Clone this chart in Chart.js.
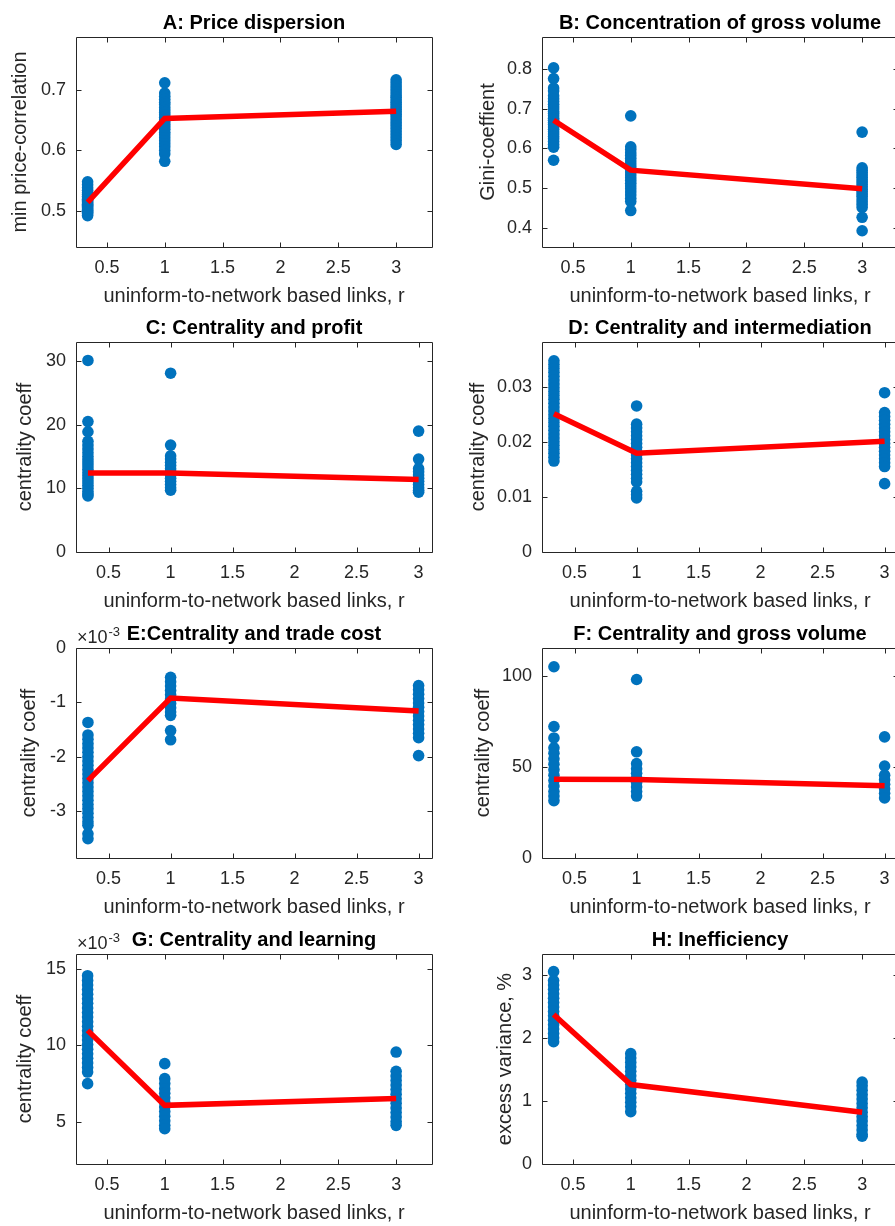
<!DOCTYPE html>
<html>
<head>
<meta charset="utf-8">
<script src="https://cdn.jsdelivr.net/npm/chart.js@4.4.0/dist/chart.umd.min.js"></script>
<style>
  html, body { margin: 0; padding: 0; background: #fff; overflow: hidden; width: 895px; height: 1226px; }
  #figure { position: relative; width: 895px; height: 1226px; overflow: hidden; }
  #figure canvas { position: absolute; }
</style>
</head>
<body>
<div id="figure"></div>
<script>
// x positions of the three simulation groups
const rValues = [1 / 3, 1, 3]
const xTicks = [0.5, 1, 1.5, 2, 2.5, 3]

// A: price dispersion
const aLow = [0.548, 0.543, 0.538, 0.534, 0.530, 0.527, 0.524, 0.521, 0.519, 0.517, 0.515, 0.513, 0.511, 0.509, 0.507, 0.505, 0.503, 0.501, 0.499, 0.497, 0.495, 0.492]
const aMid = [0.712, 0.695, 0.690, 0.685, 0.680, 0.676, 0.671, 0.667, 0.663, 0.659, 0.655, 0.651, 0.647, 0.643, 0.639, 0.635, 0.630, 0.626, 0.621, 0.616, 0.611, 0.606, 0.600, 0.594, 0.582]
const aHigh = [0.717, 0.712, 0.707, 0.702, 0.697, 0.692, 0.688, 0.684, 0.680, 0.676, 0.672, 0.668, 0.664, 0.660, 0.656, 0.651, 0.646, 0.641, 0.636, 0.631, 0.626, 0.621, 0.616, 0.610]
const aMean = [0.514, 0.653, 0.665]
const aTicks = [0.5, 0.6, 0.7]

// B: concentration of gross volume
const bLow = [0.803, 0.776, 0.752, 0.745, 0.733, 0.725, 0.718, 0.711, 0.705, 0.699, 0.693, 0.688, 0.682, 0.676, 0.671, 0.665, 0.660, 0.654, 0.648, 0.642, 0.636, 0.630, 0.624, 0.617, 0.610, 0.603, 0.570]
const bMid = [0.682, 0.604, 0.597, 0.589, 0.582, 0.575, 0.568, 0.561, 0.554, 0.547, 0.540, 0.533, 0.526, 0.519, 0.512, 0.505, 0.498, 0.490, 0.482, 0.474, 0.466, 0.443]
const bHigh = [0.641, 0.551, 0.545, 0.539, 0.533, 0.527, 0.521, 0.515, 0.509, 0.503, 0.497, 0.491, 0.485, 0.479, 0.472, 0.465, 0.458, 0.451, 0.426, 0.392]
const bMean = [0.671, 0.545, 0.498]
const bTicks = [0.4, 0.5, 0.6, 0.7, 0.8]

// C: centrality and profit
const cLow = [30.1, 20.5, 18.9, 17.4, 16.8, 16.2, 15.6, 15.0, 14.5, 14.0, 13.5, 13.0, 12.5, 12.0, 11.5, 11.0, 10.5, 10.0, 9.5, 9.1, 8.8]
const cMid = [28.1, 16.8, 15.1, 14.6, 14.1, 13.6, 13.1, 12.6, 12.1, 11.6, 11.1, 10.6, 10.1, 9.7]
const cHigh = [19.0, 14.6, 13.1, 12.6, 12.1, 11.6, 11.1, 10.6, 10.1, 9.7, 9.4]
const cMean = [12.4, 12.4, 11.4]
const cTicks = [0, 10, 20, 30]

// D: centrality and intermediation
const dLow = [0.0347, 0.0340, 0.0333, 0.0326, 0.0319, 0.0312, 0.0305, 0.0298, 0.0291, 0.0284, 0.0277, 0.0270, 0.0263, 0.0256, 0.0249, 0.0242, 0.0235, 0.0228, 0.0221, 0.0214, 0.0207, 0.0200, 0.0193, 0.0186, 0.0179, 0.0172, 0.0165]
const dMid = [0.0265, 0.0232, 0.0225, 0.0218, 0.0211, 0.0204, 0.0197, 0.0190, 0.0183, 0.0176, 0.0169, 0.0162, 0.0155, 0.0148, 0.0141, 0.0134, 0.0127, 0.0110, 0.0104, 0.0098]
const dHigh = [0.0289, 0.0253, 0.0246, 0.0239, 0.0232, 0.0225, 0.0218, 0.0211, 0.0204, 0.0197, 0.0190, 0.0183, 0.0176, 0.0169, 0.0162, 0.0155, 0.0124]
const dMean = [0.0251, 0.0179, 0.0201]
const dTicks = [0, 0.01, 0.02, 0.03]

// E: centrality and trade cost (x 10^-3)
const eLow = [-1.37, -1.60, -1.68, -1.76, -1.84, -1.92, -2.00, -2.08, -2.16, -2.24, -2.32, -2.40, -2.48, -2.56, -2.64, -2.72, -2.80, -2.88, -2.96, -3.04, -3.12, -3.20, -3.26, -3.42, -3.51]
const eMid = [-0.54, -0.62, -0.70, -0.78, -0.86, -0.94, -1.02, -1.10, -1.18, -1.24, -1.52, -1.69]
const eHigh = [-0.69, -0.77, -0.85, -0.93, -1.01, -1.09, -1.17, -1.25, -1.33, -1.41, -1.49, -1.57, -1.65, -1.98]
const eMean = [-2.44, -0.92, -1.16]
const eTicks = [-3, -2, -1, 0]

// F: centrality and gross volume
const fLow = [105.0, 72.2, 65.9, 60.5, 57.5, 54.5, 51.5, 48.5, 45.5, 42.5, 39.5, 36.5, 34.0, 31.5]
const fMid = [98.0, 58.3, 51.8, 49.0, 46.5, 44.0, 41.5, 39.0, 36.5, 34.0]
const fHigh = [66.5, 50.5, 45.5, 43.0, 40.5, 38.0, 35.5, 33.0]
const fMean = [43.2, 43.1, 39.7]
const fTicks = [0, 50, 100]

// G: centrality and learning (x 10^-3)
const gLow = [14.56, 14.25, 13.95, 13.65, 13.35, 13.05, 12.75, 12.45, 12.15, 11.85, 11.55, 11.25, 10.95, 10.65, 10.35, 10.05, 9.75, 9.45, 9.15, 8.85, 8.55, 8.25, 7.49]
const gMid = [8.80, 7.82, 7.50, 7.16, 6.86, 6.56, 6.26, 5.96, 5.66, 5.36, 5.06, 4.76, 4.54]
const gHigh = [9.56, 8.30, 8.00, 7.70, 7.40, 7.10, 6.80, 6.50, 6.20, 5.90, 5.60, 5.30, 5.00, 4.76]
const gMean = [10.98, 6.07, 6.52]
const gTicks = [5, 10, 15]

// H: inefficiency
const hLow = [3.05, 2.91, 2.84, 2.77, 2.70, 2.63, 2.56, 2.49, 2.42, 2.35, 2.28, 2.21, 2.14, 2.07, 2.00, 1.94]
const hMid = [1.75, 1.68, 1.61, 1.54, 1.47, 1.40, 1.33, 1.26, 1.19, 1.12, 1.05, 0.98, 0.91, 0.83]
const hHigh = [1.30, 1.24, 1.17, 1.10, 1.03, 0.96, 0.89, 0.82, 0.75, 0.68, 0.61, 0.54, 0.47, 0.44]
const hMean = [2.37, 1.26, 0.82]
const hTicks = [0, 1, 2, 3]

const xLabel = 'uninform-to-network based links, r'
const FONT = '"Liberation Sans", Arial, Helvetica, sans-serif'
const AXIS_COLOR = '#262626'
const DOT_COLOR = 'rgb(0,114,189)'
const TICK_LEN = 5

const wideX = [0.233, 3.31]
const narrowX = [0.237, 3.108]

const panels = [
  { title: 'A: Price dispersion', yLabel: 'min price-correlation', cols: [aLow, aMid, aHigh], mean: aMean, yTicks: aTicks, xr: wideX, yr: [0.44, 0.788], row: 0, col: 0, labelPad: 8 },
  { title: 'B: Concentration of gross volume', yLabel: 'Gini-coeffient', cols: [bLow, bMid, bHigh], mean: bMean, yTicks: bTicks, xr: wideX, yr: [0.351, 0.881], row: 0, col: 1, labelPad: 30 },
  { title: 'C: Centrality and profit', yLabel: 'centrality coeff', cols: [cLow, cMid, cHigh], mean: cMean, yTicks: cTicks, xr: narrowX, yr: [0, 33], row: 1, col: 0, labelPad: 13 },
  { title: 'D: Centrality and intermediation', yLabel: 'centrality coeff', cols: [dLow, dMid, dHigh], mean: dMean, yTicks: dTicks, xr: narrowX, yr: [0, 0.0381], row: 1, col: 1, labelPad: 20 },
  { title: 'E:Centrality and trade cost', yLabel: 'centrality coeff', cols: [eLow, eMid, eHigh], mean: eMean, yTicks: eTicks, xr: narrowX, yr: [-3.865, 0], row: 2, col: 0, labelPad: 17, power: '-3' },
  { title: 'F: Centrality and gross volume', yLabel: 'centrality coeff', cols: [fLow, fMid, fHigh], mean: fMean, yTicks: fTicks, xr: narrowX, yr: [0, 115.3], row: 2, col: 1, labelPad: 25 },
  { title: 'G: Centrality and learning', yLabel: 'centrality coeff', cols: [gLow, gMid, gHigh], mean: gMean, yTicks: gTicks, xr: wideX, yr: [2.23, 15.98], row: 3, col: 0, labelPad: 13, power: '-3' },
  { title: 'H: Inefficiency', yLabel: 'excess variance, %', cols: [hLow, hMid, hHigh], mean: hMean, yTicks: hTicks, xr: wideX, yr: [0, 3.33], row: 3, col: 1, labelPad: 47 },
]

// canvas placement on the page
const rowTops = [0, 305, 611, 917]
const colLefts = [0, 446]
const colWidths = [445, 460]
const yAxisWidths = [76, 96]
const rightPads = [13, 8]
const CANVAS_H = 308

// MATLAB style box with inward ticks on all four sides
const axesBox = {
  id: 'axesBox',
  beforeDatasetsDraw(chart) {
    const { ctx, chartArea: a, scales: { x, y } } = chart
    const l = Math.round(a.left) + 0.5
    const t = Math.round(a.top) + 0.5
    const r = Math.round(a.right) + 0.5
    const b = Math.round(a.bottom) + 0.5
    ctx.save()
    ctx.strokeStyle = AXIS_COLOR
    ctx.lineWidth = 1
    ctx.beginPath()
    ctx.rect(l, t, r - l, b - t)
    x.ticks.forEach(tk => {
      const px = Math.round(x.getPixelForValue(tk.value)) + 0.5
      ctx.moveTo(px, b); ctx.lineTo(px, b - TICK_LEN)
      ctx.moveTo(px, t); ctx.lineTo(px, t + TICK_LEN)
    })
    y.ticks.forEach(tk => {
      const py = Math.round(y.getPixelForValue(tk.value)) + 0.5
      ctx.moveTo(l, py); ctx.lineTo(l + TICK_LEN, py)
      ctx.moveTo(r, py); ctx.lineTo(r - TICK_LEN, py)
    })
    ctx.stroke()
    ctx.restore()
  }
}

// "x10^-3" multiplier above the y axis
const exponentLabel = {
  id: 'exponentLabel',
  afterDraw(chart, args, opts) {
    if (!opts.power) return
    const { ctx, chartArea: a } = chart
    ctx.save()
    ctx.fillStyle = AXIS_COLOR
    ctx.textBaseline = 'alphabetic'
    ctx.textAlign = 'left'
    ctx.font = '18px ' + FONT
    const base = '\u00d710'
    ctx.fillText(base, a.left + 1, a.top - 5)
    const w = ctx.measureText(base).width
    ctx.font = '13px ' + FONT
    ctx.fillText(opts.power, a.left + 2 + w, a.top - 12)
    ctx.restore()
  }
}

const figure = document.getElementById('figure')

panels.forEach(p => {
  const canvas = document.createElement('canvas')
  canvas.width = colWidths[p.col]
  canvas.height = CANVAS_H
  canvas.style.left = colLefts[p.col] + 'px'
  canvas.style.top = rowTops[p.row] + 'px'
  canvas.style.width = colWidths[p.col] + 'px'
  canvas.style.height = CANVAS_H + 'px'
  figure.appendChild(canvas)

  const points = p.cols.flatMap((vals, i) => vals.map(v => ({ x: rValues[i], y: v })))
  const meanLine = p.mean.map((v, i) => ({ x: rValues[i], y: v }))
  const yTickList = p.yTicks

  new Chart(canvas.getContext('2d'), {
    type: 'scatter',
    data: {
      datasets: [
        {
          type: 'line',
          data: meanLine,
          borderColor: '#ff0000',
          borderWidth: 5.5,
          pointRadius: 0,
          fill: false,
          tension: 0,
          order: 0,
        },
        {
          data: points,
          backgroundColor: DOT_COLOR,
          borderColor: DOT_COLOR,
          borderWidth: 0,
          pointRadius: 5.8,
          order: 1,
        },
      ],
    },
    options: {
      responsive: false,
      animation: false,
      devicePixelRatio: 1,
      events: [],
      layout: { padding: { left: 0, right: rightPads[p.col], top: 0, bottom: 0 } },
      plugins: {
        legend: { display: false },
        tooltip: { enabled: false },
        title: {
          display: true,
          text: p.title,
          color: '#000',
          fullSize: false,
          font: { family: FONT, size: 20, weight: 'bold' },
          padding: { top: 11.3, bottom: 1.7 },
        },
        exponentLabel: { power: p.power },
      },
      scales: {
        x: {
          type: 'linear',
          position: 'bottom',
          min: p.xr[0],
          max: p.xr[1],
          grid: { display: false, drawTicks: false },
          border: { display: false },
          ticks: {
            color: AXIS_COLOR,
            font: { family: FONT, size: 18 },
            padding: 10.2,
            autoSkip: false,
            maxRotation: 0,
            callback: v => String(v),
          },
          afterBuildTicks: s => { s.ticks = xTicks.map(v => ({ value: v })) },
          afterFit: s => { s.height = 61 },
          title: {
            display: true,
            text: xLabel,
            color: AXIS_COLOR,
            font: { family: FONT, size: 20 },
            padding: { top: 0, bottom: 0 },
          },
        },
        y: {
          type: 'linear',
          position: 'left',
          min: p.yr[0],
          max: p.yr[1],
          grid: { display: false, drawTicks: false },
          border: { display: false },
          ticks: {
            color: AXIS_COLOR,
            font: { family: FONT, size: 18 },
            padding: 10,
            autoSkip: false,
            callback: v => String(v),
          },
          afterBuildTicks: s => { s.ticks = yTickList.map(v => ({ value: v })) },
          afterFit: s => { s.width = yAxisWidths[p.col] },
          title: {
            display: true,
            text: p.yLabel,
            color: AXIS_COLOR,
            font: { family: FONT, size: 20 },
            padding: { top: p.labelPad, bottom: 0 },
          },
        },
      },
    },
    plugins: [axesBox, exponentLabel],
  })
})
</script>
</body>
</html>
